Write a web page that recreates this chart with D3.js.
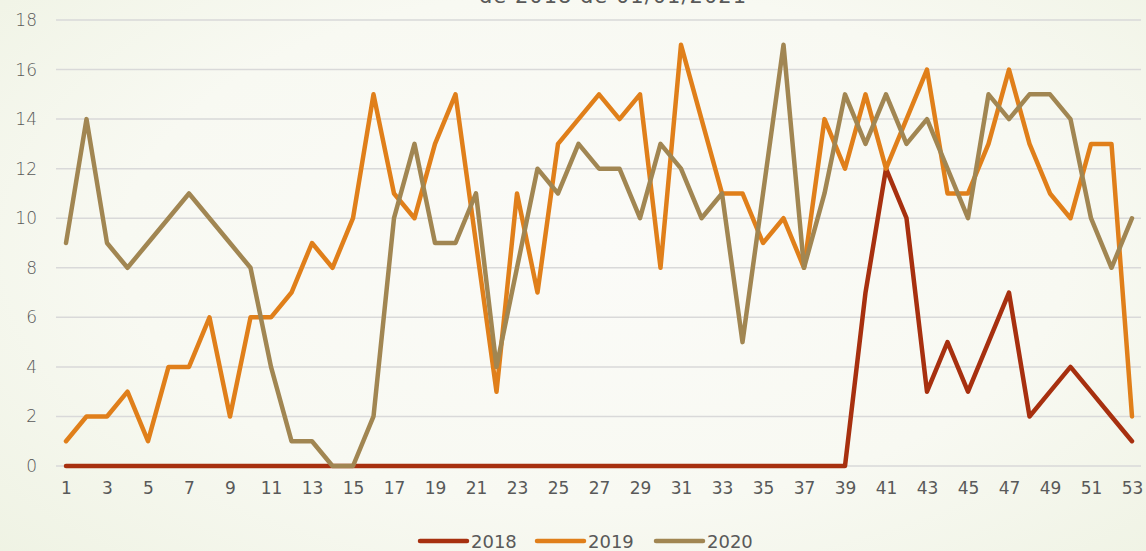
<!DOCTYPE html>
<html>
<head>
<meta charset="utf-8">
<script src="https://cdn.jsdelivr.net/npm/d3@7"></script>
<style>
  html, body { margin: 0; padding: 0; }
  body {
    width: 1146px; height: 551px; overflow: hidden;
    background: radial-gradient(ellipse 75% 85% at 52% 45%, #fbfbf8 0%, #f8f9f2 55%, #eef2e2 100%);
  }
  svg { display: block; font-family: 'Century Gothic', 'DejaVu Sans', sans-serif; }
</style>
</head>
<body>
<svg id="chart" width="1146" height="551"></svg>
<script>
const weeks = d3.range(1, 54)
const years = ['2018', '2019', '2020']
const colors = ['#a7300f', '#e07f1a', '#a18652']

const v2018 = [0,0,0,0,0,0,0,0,0,0, 0,0,0,0,0,0,0,0,0,0, 0,0,0,0,0,0,0,0,0,0,
  0,0,0,0,0,0,0,0,0,7, 12,10,3,5,3,5,7,2,3,4, 3,2,1]
const v2019 = [1,2,2,3,1,4,4,6,2,6, 6,7,9,8,10,15,11,10,13,15, 9,3,11,7,13,14,15,14,15,8,
  17,14,11,11,9,10,8,14,12,15, 12,14,16,11,11,13,16,13,11,10, 13,13,2]
const v2020 = [9,14,9,8,9,10,11,10,9,8, 4,1,1,0,0,2,10,13,9,9, 11,4,8,12,11,13,12,12,10,13,
  12,10,11,5,11,17,8,11,15,13, 15,13,14,12,10,15,14,15,15,14, 10,8,10]
const series = [v2018, v2019, v2020]

const yTicks = d3.range(0, 19, 2)
const xTicks = weeks.filter((w) => w % 2 === 1)
const title = 'de 2018 de 01/01/2021'

window.addEventListener('load', () => {
  const svg = d3.select('#chart')
  const x = d3.scaleLinear().domain([1, 53]).range([66, 1132])
  const y = d3.scaleLinear().domain([0, 18]).range([466, 20])

  // title (cut off at the top, as in the source)
  svg.append('text')
    .attr('x', 613).attr('y', 3)
    .attr('text-anchor', 'middle')
    .attr('font-size', 21)
    .attr('letter-spacing', 1)
    .attr('fill', '#595959')
    .text(title)

  // gridlines
  svg.append('g')
    .selectAll('line')
    .data(yTicks)
    .enter()
    .append('line')
    .attr('x1', 56).attr('x2', 1141)
    .attr('y1', (d) => y(d)).attr('y2', (d) => y(d))
    .attr('stroke', '#d9d9d9')
    .attr('stroke-width', 1.5)

  // y axis
  const yAxis = svg.append('g')
    .attr('transform', 'translate(37,0)')
    .call(d3.axisLeft(y).tickValues(yTicks).tickSize(0).tickPadding(0))
  yAxis.select('.domain').remove()
  yAxis.selectAll('text')
    .attr('font-size', 17).attr('fill', '#595959')
    .attr('font-family', "'DejaVu Sans', sans-serif")
    .attr('font-weight', 300)

  // x axis
  const xAxis = svg.append('g')
    .attr('transform', 'translate(0,482)')
    .call(d3.axisBottom(x).tickValues(xTicks).tickFormat(d3.format('d')).tickSize(0).tickPadding(0))
  xAxis.select('.domain').remove()
  xAxis.selectAll('text')
    .attr('font-size', 17).attr('fill', '#595959')
    .attr('font-family', "'DejaVu Sans', sans-serif")

  const line = d3.line()
    .x((d, i) => x(weeks[i]))
    .y((d) => y(d))

  svg.append('g')
    .attr('fill', 'none')
    .attr('stroke-width', 4.5)
    .attr('stroke-linejoin', 'round')
    .attr('stroke-linecap', 'round')
    .selectAll('path')
    .data(series)
    .enter()
    .append('path')
    .attr('stroke', (d, i) => colors[i])
    .attr('d', (d) => line(d))

  // legend
  const legendX = [420, 537, 656]
  const lg = svg.append('g')
    .selectAll('g')
    .data(years)
    .enter()
    .append('g')
    .attr('transform', (d, i) => `translate(${legendX[i]},541)`)
  lg.append('line')
    .attr('x1', 0).attr('x2', 47)
    .attr('stroke', (d, i) => colors[i])
    .attr('stroke-width', 4.5)
    .attr('stroke-linecap', 'round')
  lg.append('text')
    .attr('x', 51).attr('y', 7)
    .attr('font-size', 18)
    .attr('fill', '#595959')
    .attr('font-family', "'DejaVu Sans', sans-serif")
    .text((d) => d)
})
</script>
</body>
</html>
